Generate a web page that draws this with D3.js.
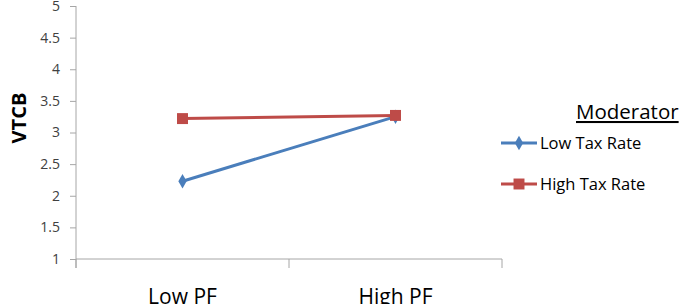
<!DOCTYPE html>
<html>
    <head>
        <meta charset="UTF-8">
        <script src="https://d3js.org/d3.v7.min.js"></script>
        <style>
            body { margin: 0; background: #fff; }
            text { font-family: "Open Sans", "Noto Sans", sans-serif; }
        </style>
    </head>

    <body>

        <svg id="canvas"></svg>

        <script>

            width = 685;
            height = 304;

            categories = ["Low PF", "High PF"];
            lowTax = [2.23, 3.25];
            highTax = [3.22, 3.27];
            yTicks = [1, 1.5, 2, 2.5, 3, 3.5, 4, 4.5, 5];

            series = [
                { name: "Low Tax Rate", values: lowTax, color: "#4a7ebb", marker: "diamond" },
                { name: "High Tax Rate", values: highTax, color: "#be4b48", marker: "square" }
            ];

            canvas = d3.select("#canvas")
                .attr("width", width)
                .attr("height", height);

            x = d3.scaleBand()
                .domain(categories)
                .range([76, 502])
                .padding(0);

            y = d3.scaleLinear()
                .domain([1, 5])
                .range([259, 6]);

            // y axis
            yAxis = canvas.append("g")
                .attr("transform", "translate(76,0)")
                .call(d3.axisLeft(y).tickValues(yTicks).tickSize(6).tickPadding(10).tickFormat(d3.format("")));
            yAxis.select(".domain").remove();
            yAxis.selectAll("line").attr("stroke", "#a6a6a6");
            yAxis.selectAll("text").attr("fill", "#404040").style("font-size", "14px");
            canvas.append("line")
                .attr("x1", 76).attr("x2", 76)
                .attr("y1", y(5)).attr("y2", 268)
                .attr("stroke", "#a6a6a6");

            // x axis
            canvas.append("line")
                .attr("x1", 76).attr("x2", 502)
                .attr("y1", y(1)).attr("y2", y(1))
                .attr("stroke", "#a6a6a6");
            canvas.selectAll(".xtick")
                .data(categories.concat([null]))
                .enter()
                    .append("line")
                        .attr("x1", (d, i) => 76 + i * x.bandwidth())
                        .attr("x2", (d, i) => 76 + i * x.bandwidth())
                        .attr("y1", y(1))
                        .attr("y2", 268)
                        .attr("stroke", "#a6a6a6");
            canvas.selectAll(".xlabel")
                .data(categories)
                .enter()
                    .append("text")
                        .attr("x", (d) => x(d) + x.bandwidth() / 2)
                        .attr("y", 304)
                        .attr("text-anchor", "middle")
                        .attr("fill", "#000")
                        .style("font-size", "21px")
                        .text((d) => d);

            // y title
            canvas.append("text")
                .attr("transform", "translate(26,118) rotate(-90)")
                .attr("text-anchor", "middle")
                .style("font-size", "20px")
                .style("font-weight", "bold")
                .text("VTCB");

            line = d3.line()
                .x((d, i) => x(categories[i]) + x.bandwidth() / 2)
                .y((d) => y(d));

            diamond = d3.symbol().type(d3.symbolDiamond).size(60);
            square = d3.symbol().type(d3.symbolSquare).size(120);

            series.forEach(function (s) {
                canvas.append("path")
                    .attr("d", line(s.values))
                    .attr("fill", "none")
                    .attr("stroke", s.color)
                    .attr("stroke-width", 3);
                canvas.selectAll(".m-" + s.marker)
                    .data(s.values)
                    .enter()
                        .append("path")
                            .attr("d", s.marker == "diamond" ? diamond : square)
                            .attr("transform", (d, i) => "translate(" + (x(categories[i]) + x.bandwidth() / 2) + "," + y(d) + ")")
                            .attr("fill", s.color);
            });

            // legend
            canvas.append("text")
                .attr("x", 576)
                .attr("y", 119)
                .style("font-size", "20.5px")
                .style("text-decoration", "underline")
                .attr("fill", "#000")
                .text("Moderator");

            legend = canvas.selectAll(".legend")
                .data(series)
                .enter()
                    .append("g")
                        .attr("transform", (d, i) => "translate(0," + (143 + i * 41) + ")");
            legend.append("line")
                .attr("x1", 501).attr("x2", 537)
                .attr("stroke", (d) => d.color)
                .attr("stroke-width", 3);
            legend.append("path")
                .attr("d", (d) => d.marker == "diamond" ? diamond() : square())
                .attr("transform", "translate(519,0)")
                .attr("fill", (d) => d.color);
            legend.append("text")
                .attr("x", 540)
                .attr("y", 6)
                .style("font-size", "16.5px")
                .attr("fill", "#000")
                .text((d) => d.name);

        </script>

    </body>

</html>
